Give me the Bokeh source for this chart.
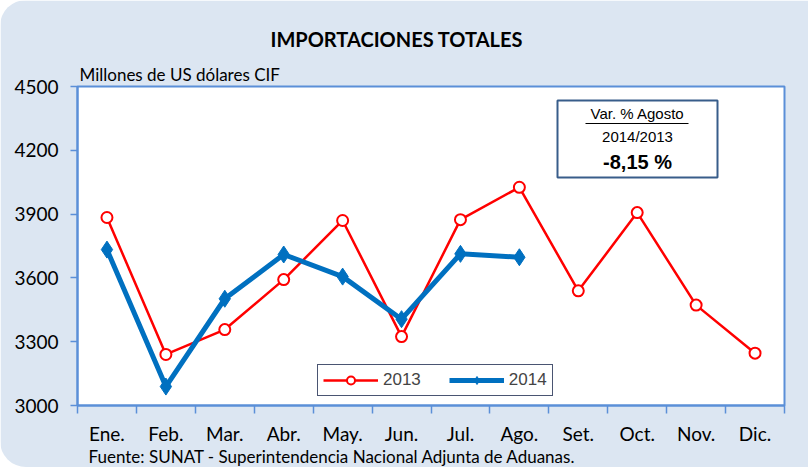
from bokeh.plotting import figure
from bokeh.models import (Range1d, FixedTicker, Label, BoxAnnotation, Legend,
                          LegendItem, Title)
from bokeh.embed import file_html
from bokeh.resources import INLINE

months = ["Ene.", "Feb.", "Mar.", "Abr.", "May.", "Jun.", "Jul.", "Ago.",
          "Set.", "Oct.", "Nov.", "Dic."]
v2013 = [3884, 3240, 3357, 3592, 3870, 3324, 3874, 4026, 3539, 3907, 3472, 3246]
v2014 = [3733, 3089, 3502, 3710, 3606, 3406, 3713, 3697]
y_ticks = [3000, 3300, 3600, 3900, 4200, 4500]

W, H = 808, 467
FL, FR, FT, FB = 77, 784, 86, 405
X0, X1 = 0, 12
Y0, Y1 = 3000, 4500


def xd(px):
    return X0 + (px - FL) * (X1 - X0) / (FR - FL)


def yd(py):
    return Y0 + (FB - py) * (Y1 - Y0) / (FB - FT)


AX = "#5b8fd8"
BG = "#dce6f2"
p = figure(width=W, height=H, output_backend="svg", toolbar_location=None,
           x_range=Range1d(X0, X1), y_range=Range1d(Y0, Y1),
           min_border_left=FL, min_border_right=W - FR,
           min_border_top=FT, min_border_bottom=H - FB)
p.border_fill_color = BG
p.background_fill_color = "white"
p.outline_line_color = AX
p.outline_line_width = 2
p.grid.visible = False
p.styles = {"border-radius": "26px 0 0 26px", "overflow": "hidden"}

# titles
sub = Title(text="Millones de US dólares CIF", align="left", offset=2,
            text_font="Lato", text_font_style="normal", text_font_size="17px",
            text_color="black", standoff=3)
p.add_layout(sub, "above")
main = Title(text="IMPORTACIONES TOTALES", align="left", offset=193,
             text_font="Lato", text_font_style="bold", text_font_size="20px",
             text_color="black", standoff=20)
p.add_layout(main, "above")
foot = Title(text="Fuente: SUNAT - Superintendencia Nacional Adjunta de Aduanas.",
             align="left", offset=11, text_font="Lato", text_font_style="normal",
             text_font_size="17px", text_color="black", standoff=-7)
p.add_layout(foot, "below")

# axes
xa = p.xaxis[0]
xa.ticker = FixedTicker(ticks=[i + 0.5 for i in range(len(months))],
                        minor_ticks=list(range(len(months) + 1)))
xa.major_label_overrides = {i + 0.5: m for i, m in enumerate(months)}
xa.major_tick_out = 0
xa.major_tick_in = 0
xa.major_tick_line_color = None
xa.minor_tick_out = 8
xa.minor_tick_in = 0
xa.minor_tick_line_color = AX
xa.minor_tick_line_width = 1.5
xa.axis_line_color = AX
xa.axis_line_width = 2
xa.major_label_standoff = 8
xa.major_label_text_font = "Lato"
xa.major_label_text_font_size = "19px"
xa.major_label_text_color = "black"

ya = p.yaxis[0]
ya.ticker = FixedTicker(ticks=y_ticks, minor_ticks=[])
ya.major_tick_out = 7
ya.major_tick_in = 0
ya.major_tick_line_color = AX
ya.major_tick_line_width = 1.5
ya.minor_tick_out = 0
ya.minor_tick_in = 0
ya.axis_line_color = AX
ya.axis_line_width = 2
ya.major_label_standoff = 12
ya.major_label_text_font = "Lato"
ya.major_label_text_font_size = "19px"
ya.major_label_text_color = "black"

x13 = [i + 0.5 for i in range(len(v2013))]
x14 = [i + 0.5 for i in range(len(v2014))]

r13 = p.line(x13, v2013, line_color="#ff0000", line_width=2.5)
c13 = p.scatter(x13, v2013, marker="circle", size=11, fill_color="white",
                line_color="#ff0000", line_width=2)
r14 = p.line(x14, v2014, line_color="#0070c0", line_width=5)
d14 = p.scatter(x14, v2014, marker="diamond", size=17, fill_color="#0070c0",
                line_color="#0070c0")

legend = Legend(items=[LegendItem(label="2013", renderers=[r13, c13]),
                       LegendItem(label="2014", renderers=[r14, d14])],
                orientation="horizontal", location=(240, 9),
                label_text_font="Liberation Sans", label_text_font_size="17px",
                border_line_color="#4a5572", border_line_width=1.5,
                border_line_alpha=1,
                background_fill_color="white", background_fill_alpha=1,
                glyph_width=55, glyph_height=20, padding=5, spacing=28,
                label_standoff=5, margin=0)
p.add_layout(legend)

# info box
box = BoxAnnotation(left=xd(557), right=xd(717), top=yd(100), bottom=yd(177),
                    fill_color="white", fill_alpha=1, line_color="#385d8a",
                    line_alpha=1, line_width=2, level="underlay")
p.add_layout(box)
p.segment(x0=[xd(585)], y0=[yd(123)], x1=[xd(688)], y1=[yd(123)],
          line_color="black", line_width=1.2)

texts = [
    dict(x=xd(637), y=yd(113), text="Var. % Agosto", text_align="center",
         text_font="Liberation Sans", text_font_size="15px"),
    dict(x=xd(637), y=yd(136), text="2014/2013", text_align="center",
         text_font="Liberation Sans", text_font_size="15px"),
    dict(x=xd(637), y=yd(161), text="-8,15 %", text_align="center",
         text_font="Liberation Sans", text_font_style="bold", text_font_size="20px"),
]
for t in texts:
    p.add_layout(Label(text_baseline="middle", text_color="black", **t))

open("out.html", "w").write(file_html(p, INLINE))
